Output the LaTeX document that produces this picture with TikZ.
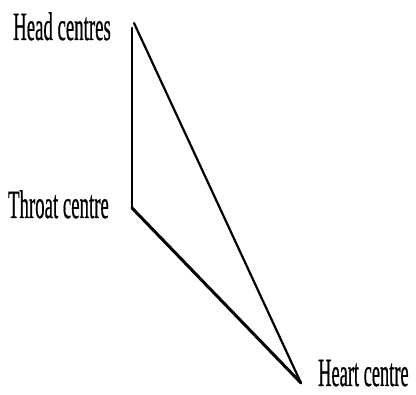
\documentclass[tikz,border=0pt]{standalone}
\usepackage{fontspec}
\setmainfont{Liberation Serif}[FakeBold=0.8]
\begin{document}
\begin{tikzpicture}[x=1pt,y=-1pt,
  lbl/.style={inner sep=0pt,font=\fontsize{40}{40}\selectfont},
  edge/.style={line width=2.2pt,line cap=round,line join=round}]
\useasboundingbox (0,0) rectangle (416,395);
\coordinate (headtop) at (132,28);
\coordinate (headtip) at (134,23);
\coordinate (throat) at (132,208);
\coordinate (heart) at (301,383);
\node[lbl,anchor=base east] (head) at (111,40) {\scalebox{0.47}[1]{Head centres}};
\node[lbl,anchor=base east] (thr) at (109,218) {\scalebox{0.47}[1]{Throat centre}};
\node[lbl,anchor=base west] (hrt) at (318,386) {\scalebox{0.46}[1]{Heart centre}};
\draw[edge] (headtop) -- (throat);
\draw[edge] (headtip) -- (heart);
\draw[edge,line width=3pt] (throat) -- (heart);
\end{tikzpicture}
\end{document}
